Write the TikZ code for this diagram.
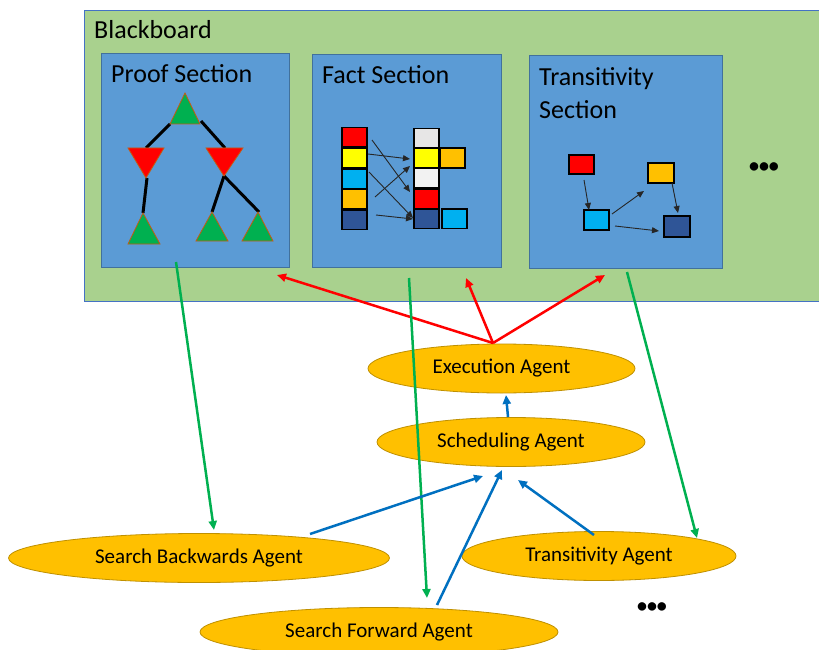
\documentclass[tikz,border=0pt]{standalone}
\usepackage{fontspec}
\setmainfont{Carlito}
\usetikzlibrary{arrows.meta,shapes.geometric,calc}
\definecolor{bbgreen}{HTML}{A9D18E}
\definecolor{bbline}{HTML}{4472C4}
\definecolor{secfill}{HTML}{5B9BD5}
\definecolor{secline}{HTML}{41719C}
\definecolor{agfill}{HTML}{FFC000}
\definecolor{agline}{HTML}{BF9000}
\definecolor{tgreen}{HTML}{00B050}
\definecolor{tborder}{HTML}{C55A11}
\definecolor{ared}{HTML}{FF0000}
\definecolor{agreen}{HTML}{00B050}
\definecolor{ablue}{HTML}{0070C0}
\definecolor{cred}{HTML}{FF0000}
\definecolor{cyel}{HTML}{FFFF00}
\definecolor{ccyan}{HTML}{00B0F0}
\definecolor{corange}{HTML}{FFC000}
\definecolor{cdblue}{HTML}{2F5597}
\definecolor{cgrey}{HTML}{E7E6E6}
\definecolor{cwhite}{HTML}{F2F2F2}
\tikzset{
  board/.style={draw=bbline, fill=bbgreen, line width=1pt, inner sep=0pt, anchor=north west},
  section/.style={draw=secline, fill=secfill, line width=1pt, inner sep=0pt, anchor=north west},
  title/.style={anchor=base west, inner sep=0pt, font=\fontsize{26}{30}\selectfont},
  agent/.style={ellipse, draw=agline, fill=agfill, line width=0.8pt, inner sep=0pt, minimum height=49pt, font=\fontsize{21}{24}\selectfont},
  tri/.style={draw=tborder, line width=0.8pt},
  treeedge/.style={line width=3pt, black},
  cell/.style={draw=black, line width=1.5pt, inner sep=0pt, minimum width=25pt, minimum height=19.5pt},
  thinarrow/.style={line width=0.9pt, black!85, -{Triangle[length=7pt,width=6pt]}},
  bigarrow/.style={line width=2.5pt, -{Triangle[length=9pt,width=8pt]}},
  dots/.style={inner sep=0pt, font=\fontsize{20}{22}\selectfont\bfseries}
}
\begin{document}
\begin{tikzpicture}[x=1pt,y=-1pt]
\clip (0,0) rectangle (819,650);
\fill[white] (0,0) rectangle (819,650);

% Blackboard and sections
\node[board, minimum width=745pt, minimum height=291pt] (bb) at (84,10) {};
\node[title] (bbt) at (94,39) {Blackboard};
\node[section, minimum width=188pt, minimum height=214pt] (proof) at (101,53) {};
\node[section, minimum width=189pt, minimum height=213pt] (fact) at (312,54) {};
\node[section, minimum width=193pt, minimum height=213pt] (trans) at (529,55) {};
\node[title] (proofT) at (111,83) {Proof Section};
\node[title] (factT) at (322,84) {Fact Section};
\node[title] (transT1) at (539,86) {Transitivity};
\node[title] (transT2) at (539,119) {Section};
\node[dots] (dots1) at (764,168) {•••};

% Proof tree
\coordinate (t0l) at (170,124); \coordinate (t0r) at (201,121);
\coordinate (r1t) at (146,148); \coordinate (r1b) at (147,178);
\coordinate (r2t) at (225,148); \coordinate (r2b) at (224,176);
\coordinate (g1t) at (143,213); \coordinate (g2t) at (212,212); \coordinate (g3t) at (259,212);
\draw[treeedge] (t0l) -- (r1t);
\draw[treeedge] (t0r) -- (r2t);
\draw[treeedge] (r1b) -- (g1t);
\draw[treeedge] (r2b) -- (g2t);
\draw[treeedge] (r2b) -- (g3t);
\filldraw[tri, fill=tgreen] (170,124) -- (185,93) -- (200,124) -- cycle;
\filldraw[tri, fill=ared] (128,148) -- (164,148) -- (146,178) -- cycle;
\filldraw[tri, fill=ared] (206,148) -- (243,148) -- (224,176) -- cycle;
\filldraw[tri, fill=tgreen] (128,244) -- (143,213) -- (160,244) -- cycle;
\filldraw[tri, fill=tgreen] (196,241) -- (212,212) -- (228,241) -- cycle;
\filldraw[tri, fill=tgreen] (242,241) -- (258,212) -- (273,241) -- cycle;

% Fact section cells
\node[cell, fill=cred] (L1) at (354.5,137.5) {};
\node[cell, fill=cyel] (L2) at (354.5,158) {};
\node[cell, fill=ccyan] (L3) at (354.5,178.5) {};
\node[cell, fill=corange] (L4) at (354.5,199) {};
\node[cell, fill=cdblue] (L5) at (354.5,219.5) {};
\node[cell, fill=cgrey] (R1) at (426.5,138.5) {};
\node[cell, fill=cyel] (R2) at (426.5,158) {};
\node[cell, fill=cwhite] (R3) at (426.5,178) {};
\node[cell, fill=cred] (R4) at (426.5,198.5) {};
\node[cell, fill=cdblue] (R5) at (426.5,218.5) {};
\node[cell, fill=corange] (R2b) at (452.5,158) {};
\node[cell, fill=ccyan] (R5b) at (454.5,218.5) {};
\coordinate (fa1s) at (372,140); \coordinate (fa1e) at (410,192);
\coordinate (fa2s) at (368,154); \coordinate (fa2e) at (410,159);
\coordinate (fa3s) at (369,172); \coordinate (fa3e) at (413,218);
\coordinate (fa4s) at (375,197); \coordinate (fa4e) at (410,166);
\coordinate (fa5s) at (376,215); \coordinate (fa5e) at (413,219);
\draw[thinarrow] (fa1s) -- (fa1e);
\draw[thinarrow] (fa2s) -- (fa2e);
\draw[thinarrow] (fa3s) -- (fa3e);
\draw[thinarrow] (fa4s) -- (fa4e);
\draw[thinarrow] (fa5s) -- (fa5e);

% Transitivity section cells
\node[cell, fill=cred, minimum height=19pt] (T1) at (581.5,164.5) {};
\node[cell, fill=corange, minimum width=26pt, minimum height=20pt] (T2) at (661,173) {};
\node[cell, fill=ccyan, minimum height=20pt] (T3) at (596.5,220) {};
\node[cell, fill=cdblue, minimum width=26pt, minimum height=21pt] (T4) at (677,226.5) {};
\coordinate (ta1s) at (584,180); \coordinate (ta1e) at (589,210);
\coordinate (ta2s) at (612,214); \coordinate (ta2e) at (644,191);
\coordinate (ta3s) at (615,226); \coordinate (ta3e) at (659,231);
\coordinate (ta4s) at (672,183); \coordinate (ta4e) at (678,213);
\draw[thinarrow] (ta1s) -- (ta1e);
\draw[thinarrow] (ta2s) -- (ta2e);
\draw[thinarrow] (ta3s) -- (ta3e);
\draw[thinarrow] (ta4s) -- (ta4e);

% Agents
\node[agent, minimum width=267pt] (exec) at (501.5,368.5) {Execution Agent};
\node[agent, minimum width=268pt] (sched) at (511,442) {Scheduling Agent};
\node[agent, minimum width=381pt] (back) at (199,558) {Search Backwards Agent};
\node[agent, minimum width=274pt] (transA) at (599,556) {Transitivity Agent};
\node[agent, minimum width=358pt] (fwd) at (379,632) {Search Forward Agent};
\node[dots] (dots2) at (652,608) {•••};

% Red arrows: execution -> blackboard
\coordinate (execTop) at (493,343);
\coordinate (rp) at (277,275);
\coordinate (rf) at (466,278);
\coordinate (rt) at (605,275);
\draw[bigarrow, ared] (execTop) -- (rp);
\draw[bigarrow, ared] (execTop) -- (rf);
\draw[bigarrow, ared] (execTop) -- (rt);

% Green arrows: sections -> agents
\coordinate (gp) at (176,262); \coordinate (gpe) at (214,530);
\coordinate (gf) at (409,278); \coordinate (gfe) at (427,598);
\coordinate (gt) at (627,272); \coordinate (gte) at (697,538);
\draw[bigarrow, agreen] (gp) -- (gpe);
\draw[bigarrow, agreen] (gf) -- (gfe);
\draw[bigarrow, agreen] (gt) -- (gte);

% Blue arrows: agents -> scheduling -> execution
\coordinate (bb1) at (310,534); \coordinate (bb1e) at (483,476);
\coordinate (bb2) at (437,605); \coordinate (bb2e) at (502,470);
\coordinate (bb3) at (594,535); \coordinate (bb3e) at (518,480);
\coordinate (bb4) at (508,417); \coordinate (bb4e) at (506,395);
\draw[bigarrow, ablue] (bb1) -- (bb1e);
\draw[bigarrow, ablue] (bb2) -- (bb2e);
\draw[bigarrow, ablue] (bb3) -- (bb3e);
\draw[bigarrow, ablue] (bb4) -- (bb4e);
\end{tikzpicture}
\end{document}
